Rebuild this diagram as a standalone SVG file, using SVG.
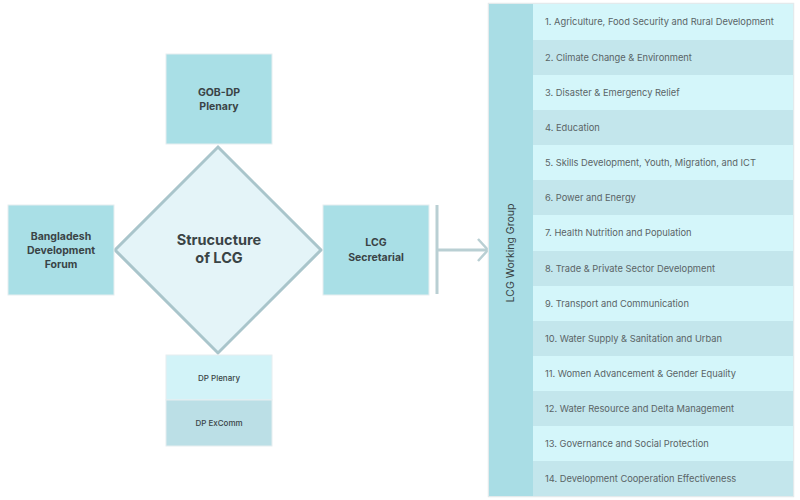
<svg xmlns="http://www.w3.org/2000/svg" width="800" height="500" viewBox="0 0 800 500">
<defs>
<style>
.box{fill:#a9dfe6;stroke:#e6eef0;stroke-width:1}
.bt{font-family:Inter,"Liberation Sans",sans-serif;font-size:10.5px;font-weight:700;fill:#3a4446;text-anchor:middle}
.rt{font-family:Inter,"Liberation Sans",sans-serif;font-size:9.3px;fill:#5a6466}
.r1{fill:#d4f6fa}
.r2{fill:#c3e6ec}
.conn{stroke:#b9cfd3;stroke-width:3;fill:none}
</style>
<marker id="arr" viewBox="0 0 12 24" refX="11" refY="12" markerWidth="12" markerHeight="24" markerUnits="userSpaceOnUse" orient="auto">
<path d="M1,1 L11,12 L1,23" fill="none" stroke="#b9cfd3" stroke-width="2.5"/>
</marker>
</defs>
<rect width="800" height="500" fill="#ffffff"/>
<g id="connectors">
<line class="conn" x1="437" y1="205" x2="437" y2="294"/>
<line class="conn" x1="437" y1="250" x2="488" y2="250" marker-end="url(#arr)"/>
</g>
<g id="gob-dp-plenary">
<rect class="box" x="166" y="54" width="106" height="90"/>
<text class="bt" x="219" y="96">GOB-DP</text>
<text class="bt" x="219" y="110">Plenary</text>
</g>
<g id="structure">
<polygon points="218,147 321,250 218,353 115,250" fill="#e4f4f8" stroke="#a9c5cb" stroke-width="3"/>
<text class="bt" style="font-size:14.5px" x="219" y="245">Strucucture</text>
<text class="bt" style="font-size:14.5px" x="219" y="263">of LCG</text>
</g>
<g id="bangladesh-development-forum">
<rect class="box" x="8" y="205" width="106" height="90"/>
<text class="bt" x="61" y="239.5">Bangladesh</text>
<text class="bt" x="61" y="253.5">Development</text>
<text class="bt" x="61" y="267.5">Forum</text>
</g>
<g id="lcg-secretarial">
<rect class="box" x="323" y="205" width="106" height="90"/>
<text class="bt" x="376" y="245.5">LCG</text>
<text class="bt" x="376" y="260.5">Secretarial</text>
</g>
<g id="dp-plenary">
<rect x="166" y="355" width="106" height="45" fill="#d2f3f8" stroke="#e6eef0"/>
<text class="bt" style="font-size:8px;font-weight:500" x="219" y="380.5">DP Plenary</text>
</g>
<g id="dp-excomm">
<rect x="166" y="400" width="106" height="46" fill="#bbdfe6" stroke="#e6eef0"/>
<text class="bt" style="font-size:8px;font-weight:500" x="219" y="425.5">DP ExComm</text>
</g>
<g id="lcg-working-group">
<rect x="488.5" y="3.5" width="305" height="493" fill="#d4f6fa" stroke="#e3eaec" stroke-width="1.5"/>
<rect x="489" y="4" width="44" height="492" fill="#a9dde5"/>
<text x="514" y="253" transform="rotate(-90 514 253)" style="font-family:Inter,'Liberation Sans',sans-serif;font-size:10.5px;fill:#3a4446;text-anchor:middle">LCG Working Group</text>
<rect class="r1" x="533" y="4" width="260" height="36"/>
<rect class="r2" x="533" y="40" width="260" height="35"/>
<rect class="r1" x="533" y="75" width="260" height="35"/>
<rect class="r2" x="533" y="110" width="260" height="35"/>
<rect class="r1" x="533" y="145" width="260" height="35"/>
<rect class="r2" x="533" y="180" width="260" height="35"/>
<rect class="r1" x="533" y="215" width="260" height="36"/>
<rect class="r2" x="533" y="251" width="260" height="35"/>
<rect class="r1" x="533" y="286" width="260" height="35"/>
<rect class="r2" x="533" y="321" width="260" height="35"/>
<rect class="r1" x="533" y="356" width="260" height="35"/>
<rect class="r2" x="533" y="391" width="260" height="35"/>
<rect class="r1" x="533" y="426" width="260" height="35"/>
<rect class="r2" x="533" y="461" width="260" height="35"/>
<text class="rt" x="545" y="25">1. Agriculture, Food Security and Rural Development</text>
<text class="rt" x="545" y="60.5">2. Climate Change &amp; Environment</text>
<text class="rt" x="545" y="95.5">3. Disaster &amp; Emergency Relief</text>
<text class="rt" x="545" y="130.5">4. Education</text>
<text class="rt" x="545" y="165.5">5. Skills Development, Youth, Migration, and ICT</text>
<text class="rt" x="545" y="200.5">6. Power and Energy</text>
<text class="rt" x="545" y="236">7. Health Nutrition and Population</text>
<text class="rt" x="545" y="271.5">8. Trade &amp; Private Sector Development</text>
<text class="rt" x="545" y="306.5">9. Transport and Communication</text>
<text class="rt" x="545" y="341.5">10. Water Supply &amp; Sanitation and Urban</text>
<text class="rt" x="545" y="376.5">11. Women Advancement &amp; Gender Equality</text>
<text class="rt" x="545" y="411.5">12. Water Resource and Delta Management</text>
<text class="rt" x="545" y="446.5">13. Governance and Social Protection</text>
<text class="rt" x="545" y="481.5">14. Development Cooperation Effectiveness</text>
</g>
</svg>
